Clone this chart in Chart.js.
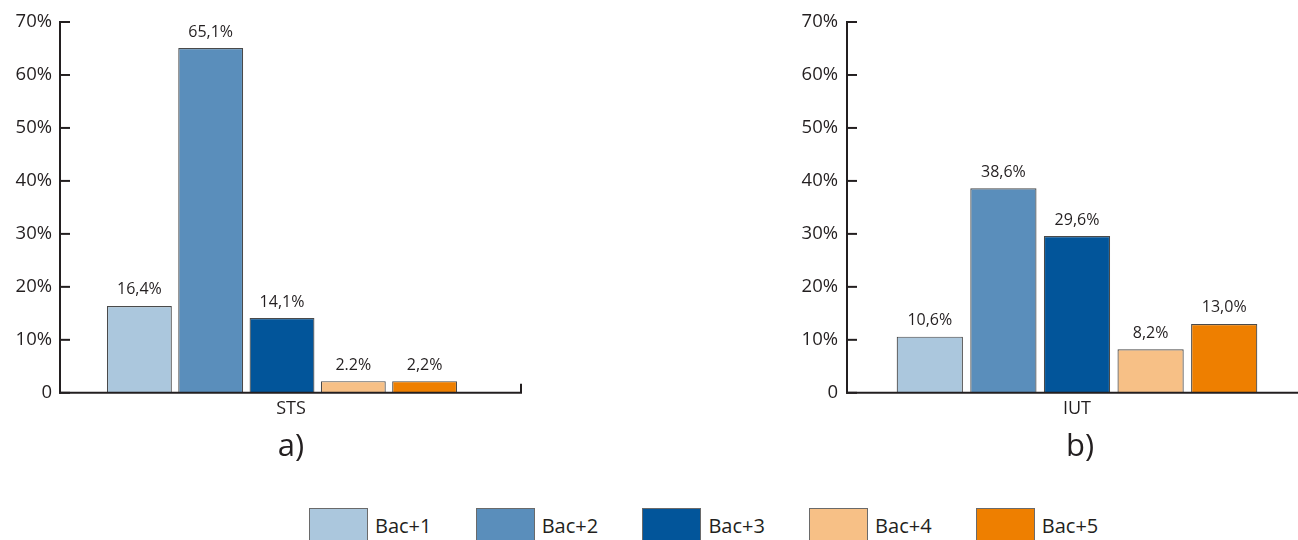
<!DOCTYPE html>
<html lang="fr">
<head>
<meta charset="utf-8">
<title>Répartition par niveau de diplôme – STS et IUT</title>
<script src="https://cdn.jsdelivr.net/npm/chart.js@4.4.1/dist/chart.umd.min.js"></script>
<style>
  html, body { margin: 0; padding: 0; background: #fff; }
  body { position: relative; width: 1298px; height: 540px; overflow: hidden; }
  canvas { position: absolute; top: 0; }
  #chartA { left: 0; }
  #chartB { left: 780px; }
  #legend { position: absolute; top: 508px; left: 309px; height: 40px; }
  .item { position: absolute; top: 0; display: flex; align-items: flex-start; white-space: nowrap; }
  .swatch { width: 59px; height: 40px; border: 1px solid #6a6a6a; box-sizing: border-box; }
  .item span { margin-left: 7px; margin-top: 8px; font: 20px 'Open Sans', sans-serif; line-height: 20px; color: #231f20; }
</style>
</head>
<body>
<canvas id="chartA" width="582" height="470"></canvas>
<canvas id="chartB" width="600" height="470"></canvas>
<div id="legend"></div>
<script>
// Series (diploma level) and their fill colours
const seriesNames  = ['Bac+1', 'Bac+2', 'Bac+3', 'Bac+4', 'Bac+5'];
const seriesColors = ['#abc7dd', '#5a8ebb', '#02559a', '#f7c086', '#ee7f00'];

// Panel a) STS
const stsCategory    = ['STS'];
const stsValues      = [16.4, 65.1, 14.1, 2.2, 2.2];
const stsValueLabels = ['16,4%', '65,1%', '14,1%', '2.2%', '2,2%'];

// Panel b) IUT
const iutCategory    = ['IUT'];
const iutValues      = [10.6, 38.6, 29.6, 8.2, 13.0];
const iutValueLabels = ['10,6%', '38,6%', '29,6%', '8,2%', '13,0%'];

// Value axis
const yTickValues = [0, 10, 20, 30, 40, 50, 60, 70];
const yTickLabels = ['0', '10%', '20%', '30%', '40%', '50%', '60%', '70%'];

const INK = '#231f20';
const FONT = "'Open Sans', sans-serif";

// Axis lines, inward tick marks and the value printed above each bar
const axisMarks = {
  id: 'axisMarks',
  afterDatasetsDraw(chart, args, opts) {
    const { ctx, chartArea } = chart;
    const y = chart.scales.y;
    const left = chartArea.left, bottom = chartArea.bottom;
    ctx.save();
    ctx.strokeStyle = INK;
    ctx.lineWidth = 2;
    ctx.lineCap = 'butt';
    // vertical axis
    ctx.beginPath();
    ctx.moveTo(left, chartArea.top - 1);
    ctx.lineTo(left, bottom + 1);
    ctx.stroke();
    // tick marks pointing into the plot
    y.ticks.forEach(t => {
      const py = y.getPixelForValue(t.value);
      ctx.beginPath();
      ctx.moveTo(left, py);
      ctx.lineTo(left + opts.tickLength, py);
      ctx.stroke();
    });
    // horizontal axis
    const xEnd = chartArea.right + opts.extend;
    ctx.beginPath();
    ctx.moveTo(left - 1, bottom);
    ctx.lineTo(xEnd, bottom);
    ctx.stroke();
    if (opts.endTick) {
      ctx.beginPath();
      ctx.moveTo(xEnd - 1, bottom);
      ctx.lineTo(xEnd - 1, bottom - 9);
      ctx.stroke();
    }
    // value labels
    ctx.fillStyle = INK;
    ctx.font = '16px ' + FONT;
    ctx.textAlign = 'center';
    ctx.textBaseline = 'middle';
    chart.data.datasets.forEach((ds, i) => {
      const bar = chart.getDatasetMeta(i).data[0];
      if (bar) ctx.fillText(opts.labels[i], bar.x, bar.y - 16);
    });
    ctx.restore();
  }
};

function makePanel(canvasId, category, values, valueLabels, caption, geo) {
  return new Chart(document.getElementById(canvasId), {
    type: 'bar',
    data: {
      labels: category,
      datasets: seriesNames.map((name, i) => ({
        label: name,
        data: [values[i]],
        backgroundColor: seriesColors[i],
        borderColor: '#4a4a4a',
        borderWidth: 1.2,
        categoryPercentage: geo.categoryPercentage,
        barPercentage: geo.barPercentage
      }))
    },
    options: {
      responsive: false,
      devicePixelRatio: 1,
      animation: false,
      layout: { padding: { top: 22, left: 0, right: 0, bottom: 0 } },
      scales: {
        x: {
          type: 'category',
          grid: { display: false, drawTicks: false },
          border: { display: false },
          ticks: { color: INK, font: { family: FONT, size: 18 }, padding: 5, labelOffset: geo.labelOffset },
          afterFit(s) { s.height = 36; }
        },
        y: {
          type: 'linear',
          position: 'left',
          min: 0,
          max: 70,
          afterBuildTicks(s) { s.ticks = yTickValues.map(v => ({ value: v })); },
          grid: { display: false, drawTicks: false },
          border: { display: false },
          ticks: {
            color: INK,
            font: { family: FONT, size: 18.5 },
            padding: geo.tickPadding,
            callback: (v) => yTickLabels[yTickValues.indexOf(v)]
          },
          afterFit(s) { s.width = geo.yWidth; }
        },
        yPad: {
          type: 'linear',
          axis: 'y',
          position: 'right',
          grid: { display: false, drawTicks: false },
          border: { display: false },
          ticks: { display: false },
          afterFit(s) { s.width = geo.rightWidth; }
        }
      },
      plugins: {
        legend: { display: false },
        tooltip: { enabled: false },
        title: {
          display: true,
          position: 'bottom',
          text: caption,
          color: INK,
          font: { family: FONT, size: 31, weight: 'normal' },
          padding: { top: 0, bottom: 4 }
        },
        axisMarks: {
          labels: valueLabels,
          tickLength: 10,
          extend: geo.extend,
          endTick: geo.endTick
        }
      }
    },
    plugins: [axisMarks]
  });
}

makePanel('chartA', stsCategory, stsValues, stsValueLabels, 'a)', {
  yWidth: 60, rightWidth: 78, tickPadding: 8, labelOffset: 9,
  categoryPercentage: 0.803, barPercentage: 0.91, extend: 18, endTick: true
});

makePanel('chartB', iutCategory, iutValues, iutValueLabels, 'b)', {
  yWidth: 67, rightWidth: 73, tickPadding: 9, labelOffset: 0,
  categoryPercentage: 0.80, barPercentage: 0.90, extend: 0, endTick: false
});

// Shared legend below both panels
const legend = document.getElementById('legend');
seriesNames.forEach((name, i) => {
  const item = document.createElement('div');
  item.className = 'item';
  item.style.left = (i * 166.7) + 'px';
  const sw = document.createElement('div');
  sw.className = 'swatch';
  sw.style.background = seriesColors[i];
  const txt = document.createElement('span');
  txt.textContent = name;
  item.appendChild(sw);
  item.appendChild(txt);
  legend.appendChild(item);
});
</script>
</body>
</html>
